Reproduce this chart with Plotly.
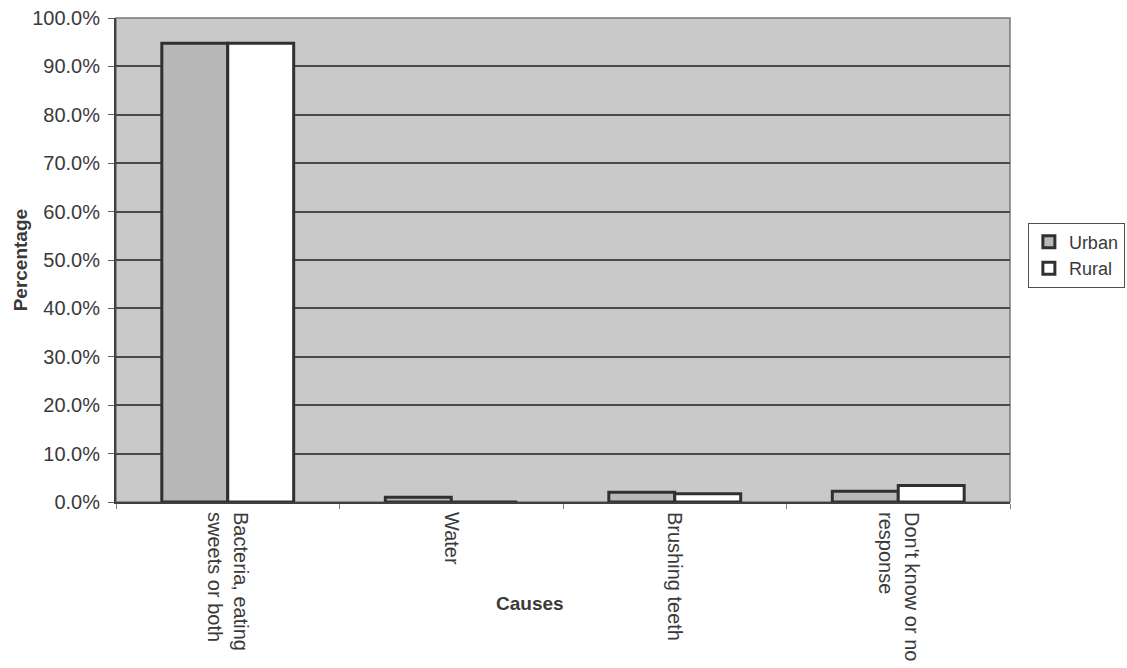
import plotly.graph_objects as go

# Survey data: perceived causes of tooth decay, by area
causes = ["Bacteria, eating<br>sweets or both", "Water", "Brushing teeth", "Don't know or no<br>response"]
urban = [94.8, 1.0, 2.0, 2.2]
rural = [94.8, 0.0, 1.7, 3.4]
y_ticks = [0, 10, 20, 30, 40, 50, 60, 70, 80, 90, 100]

FONT = "Liberation Sans, Arial, sans-serif"
TEXT = "#3a3a3a"
OUTLINE = "#303030"

fig = go.Figure()
fig.add_trace(go.Bar(
    name="Urban", x=causes, y=urban,
    marker=dict(color="#b8b8b8", line=dict(color=OUTLINE, width=3)),
))
fig.add_trace(go.Bar(
    name="Rural", x=causes, y=rural,
    marker=dict(color="#ffffff", line=dict(color=OUTLINE, width=3)),
))

fig.update_layout(
    width=1127, height=668,
    margin=dict(l=116, r=117, t=18, b=166, autoexpand=False),
    paper_bgcolor="white",
    plot_bgcolor="#c9c9c9",
    barmode="group",
    bargap=0.41,
    bargroupgap=0.0,
    font=dict(family=FONT, size=19, color=TEXT),
    showlegend=True,
    legend=dict(
        x=1.02, xanchor="left", y=0.51, yanchor="middle",
        bgcolor="white", bordercolor="#505050", borderwidth=1,
        font=dict(family=FONT, size=18, color=TEXT),
        itemwidth=30, tracegroupgap=0,
    ),
    xaxis=dict(
        tickangle=90,
        showline=True, linecolor="#404040", linewidth=2,
        ticks="outside", ticklen=5, tickcolor="#808080",
        tickson="boundaries",
        showgrid=False,
        automargin=False,
        ticklabelstandoff=4,
        tickfont=dict(family=FONT, size=20, color=TEXT),
    ),
    yaxis=dict(
        range=[0, 100],
        tickvals=y_ticks,
        ticktext=[f"{v:.1f}%" for v in y_ticks],
        showline=True, linecolor="#404040", linewidth=2,
        ticks="outside", ticklen=6, tickcolor="#606060",
        showgrid=True, gridcolor="#4a4a4a", gridwidth=1.5,
        zeroline=False,
        automargin=False,
        ticklabelstandoff=4,
        tickfont=dict(family=FONT, size=20, color=TEXT),
    ),
    shapes=[dict(
        type="rect", xref="paper", yref="paper", x0=0, x1=1, y0=0, y1=1,
        line=dict(color="#7a7a7a", width=1.5), layer="below",
    )],
    annotations=[
        dict(text="<b>Percentage</b>", textangle=-90, xref="paper", yref="paper",
             x=-0.107, y=0.5, xanchor="center", yanchor="middle",
             showarrow=False, font=dict(family=FONT, size=19, color=TEXT)),
        dict(text="<b>Causes</b>", xref="paper", yref="paper",
             x=0.463, y=-0.21, xanchor="center", yanchor="middle",
             showarrow=False, font=dict(family=FONT, size=19, color=TEXT)),
    ],
)

fig.write_html("out.html")
